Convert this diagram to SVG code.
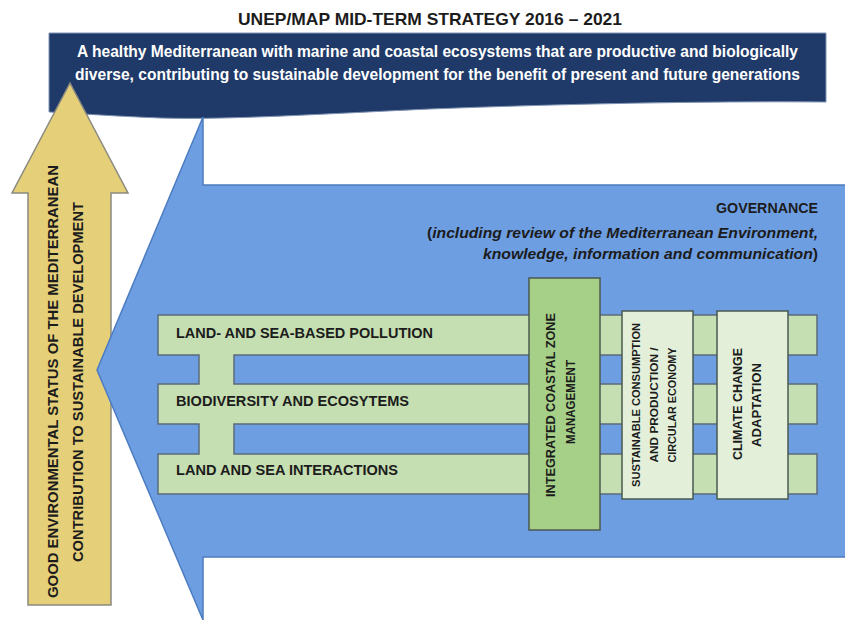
<svg xmlns="http://www.w3.org/2000/svg" width="845" height="620" viewBox="0 0 845 620">
<defs>
<style>
.t{font-family:"Liberation Sans",Arial,sans-serif;font-weight:bold;fill:#1c1c1c}
.w{fill:#ffffff}
.it{font-style:italic}
.up{font-style:normal}
.bar{fill:#c6dfb2;stroke:#5b6b78;stroke-width:1.5}
.box{stroke:#4a5a50;stroke-width:1.5}
</style>
</defs>
<rect width="845" height="620" fill="#ffffff"/>
<g id="title">
<text class="t" x="430" y="25" font-size="17" text-anchor="middle" textLength="384" lengthAdjust="spacingAndGlyphs">UNEP/MAP MID-TERM STRATEGY 2016 – 2021</text>
</g>
<g id="vision-banner">
<path d="M49,33 H826 V102 C700,101 560,104 430,109 C320,114 230,120 160,118 C110,116 70,113 49,112 Z" fill="#1f3a68" stroke="#7f93b3" stroke-width="1"/>
<text class="t w" x="437.5" y="57" font-size="16.5" text-anchor="middle" textLength="721" lengthAdjust="spacingAndGlyphs">A healthy Mediterranean with marine and coastal ecosystems that are productive and biologically</text>
<text class="t w" x="437.5" y="80" font-size="16.5" text-anchor="middle" textLength="725" lengthAdjust="spacingAndGlyphs">diverse, contributing to sustainable development for the benefit of present and future generations</text>
</g>
<g id="good-status-arrow">
<path d="M70,83 L128,193 L111,193 L111,605 L28,605 L28,193 L12,193 Z" fill="#e5cf78" stroke="#8a8a80" stroke-width="1.5"/>
<text class="t" x="58" y="381.5" font-size="15" text-anchor="middle" transform="rotate(-90 58 381.5)" textLength="433" lengthAdjust="spacingAndGlyphs">GOOD ENVIRONMENTAL STATUS OF THE MEDITERRANEAN</text>
<text class="t" x="82.5" y="382" font-size="15" text-anchor="middle" transform="rotate(-90 82.5 382)" textLength="360" lengthAdjust="spacingAndGlyphs">CONTRIBUTION TO SUSTAINABLE DEVELOPMENT</text>
</g>
<g id="governance-arrow">
<path d="M203,117 L203,185 L850,185 L850,557 L203,557 L203,620 L97,370 Z" fill="#6e9ee2" stroke="#4d7cc0" stroke-width="1.5"/>
<text class="t" x="818" y="213" font-size="15" text-anchor="end" textLength="102" lengthAdjust="spacingAndGlyphs">GOVERNANCE</text>
<text class="t it" x="818" y="238" font-size="15" text-anchor="end" textLength="391" lengthAdjust="spacingAndGlyphs"><tspan class="up">(</tspan>including review of the Mediterranean Environment,</text>
<text class="t it" x="818" y="259" font-size="15" text-anchor="end" textLength="335" lengthAdjust="spacingAndGlyphs">knowledge, information and communication<tspan class="up">)</tspan></text>
</g>
<g id="themes">
<path class="bar" d="M158,315 H817 V355 H234 V384 H817 V424 H234 V454 H817 V494 H158 V454 H199 V424 H158 V384 H199 V355 H158 Z"/>
<text class="t" x="176" y="337.5" font-size="15" textLength="257" lengthAdjust="spacingAndGlyphs">LAND- AND SEA-BASED POLLUTION</text>
<text class="t" x="176" y="406" font-size="15" textLength="233" lengthAdjust="spacingAndGlyphs">BIODIVERSITY AND ECOSYTEMS</text>
<text class="t" x="176" y="474.5" font-size="15" textLength="222" lengthAdjust="spacingAndGlyphs">LAND AND SEA INTERACTIONS</text>
</g>
<g id="iczm">
<rect class="box" x="529" y="278" width="71" height="252" fill="#a6cf88"/>
<text class="t" x="555" y="405" font-size="13.5" text-anchor="middle" transform="rotate(-90 555 405)" textLength="184" lengthAdjust="spacingAndGlyphs">INTEGRATED COASTAL ZONE</text>
<text class="t" x="575" y="402" font-size="13.5" text-anchor="middle" transform="rotate(-90 575 402)" textLength="84" lengthAdjust="spacingAndGlyphs">MANAGEMENT</text>
</g>
<g id="scp">
<rect class="box" x="622" y="311" width="71" height="188" fill="#e3efd9"/>
<text class="t" x="640" y="405" font-size="11.5" text-anchor="middle" transform="rotate(-90 640 405)" textLength="164" lengthAdjust="spacingAndGlyphs">SUSTAINABLE CONSUMPTION</text>
<text class="t" x="658" y="405" font-size="11.5" text-anchor="middle" transform="rotate(-90 658 405)" textLength="115" lengthAdjust="spacingAndGlyphs">AND PRODUCTION /</text>
<text class="t" x="675.5" y="405" font-size="11.5" text-anchor="middle" transform="rotate(-90 675.5 405)" textLength="115" lengthAdjust="spacingAndGlyphs">CIRCULAR ECONOMY</text>
</g>
<g id="climate">
<rect class="box" x="717" y="311" width="71" height="188" fill="#e3efd9"/>
<text class="t" x="742" y="404" font-size="13.5" text-anchor="middle" transform="rotate(-90 742 404)" textLength="112" lengthAdjust="spacingAndGlyphs">CLIMATE CHANGE</text>
<text class="t" x="760.5" y="405" font-size="13.5" text-anchor="middle" transform="rotate(-90 760.5 405)" textLength="84" lengthAdjust="spacingAndGlyphs">ADAPTATION</text>
</g>
<g id="connectors"/>
</svg>
